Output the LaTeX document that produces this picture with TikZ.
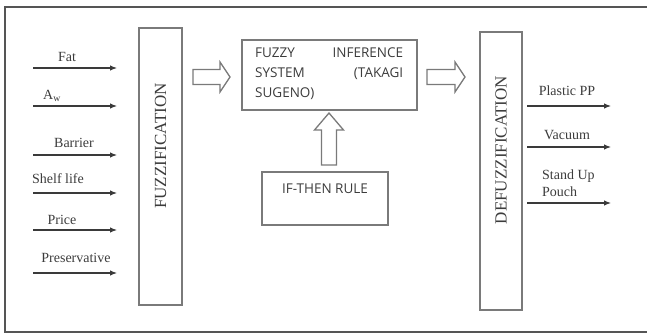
\documentclass[tikz,border=0pt]{standalone}
\usepackage{fontspec}
\setmainfont{Liberation Serif}
\newfontfamily\fisfont{Open Sans}
\usetikzlibrary{arrows.meta}
\definecolor{boxcol}{HTML}{7A7A7A}
\definecolor{arrcol}{HTML}{3A3A3A}
\definecolor{txtcol}{HTML}{3C3C3C}
\definecolor{framecol}{HTML}{555555}
\tikzset{
  panel/.style={draw=boxcol, line width=1.3pt, inner sep=0pt},
  inarrow/.style={draw=arrcol, line width=1.1pt, -{Latex[length=7pt,width=5.5pt]}},
  lab/.style={font=\fontsize{14}{15}\selectfont, text=txtcol, inner sep=0pt},
  sidelab/.style={font=\fontsize{17}{18}\selectfont, text=txtcol, inner sep=0pt, rotate=90},
  fistxt/.style={font=\fisfont\fontsize{13.5}{20}\selectfont, text=txtcol, inner sep=0pt},
  blockarrow/.style={draw=boxcol, line width=1.3pt, line join=miter, fill=white},
}
\begin{document}
\begin{tikzpicture}[x=1pt,y=-1pt]
\useasboundingbox (0,0) rectangle (647,336);
% frame (open on the right)
\draw[framecol, line width=1.3pt] (647,7) -- (5,7) -- (5,332) -- (647,332);

% boxes
\node[panel, minimum width=43pt, minimum height=277pt] (fuzz) at (160.5,166.5) {};
\node[sidelab] (fuzzt) at (160.5,146) {FUZZIFICATION};
\node[panel, minimum width=42pt, minimum height=278pt] (defuzz) at (501,171) {};
\node[sidelab] (defuzzt) at (501,150) {DEFUZZIFICATION};
\node[panel, minimum width=175pt, minimum height=70pt] (fis) at (329.5,75) {};
\node[fistxt, align=left, anchor=north west] (fist) at (255,48) {%
  \makebox[148pt][s]{FUZZY\hfill INFERENCE}\\
  \makebox[148pt][s]{SYSTEM\hfill (TAKAGI}\\
  SUGENO)};
\node[panel, minimum width=126pt, minimum height=53pt] (rule) at (325,198.5) {};
\node[fistxt] (rulet) at (325,189) {IF-THEN RULE};

% inputs
\foreach \n/\y/\lx/\ly/\t in {
  fat/68/67/57/Fat,
  aw/106/52/96/{A\textsubscript{w}},
  bar/155/74/143/Barrier,
  shelf/193/58/179/Shelf life,
  price/230/62/220/Price,
  pres/273/76/258/Preservative}{
  \coordinate (\n s) at (33,\y);
  \coordinate (\n e) at (117,\y);
  \draw[inarrow] (\n s) -- (\n e);
  \node[lab] (\n l) at (\lx,\ly) {\t};
}

% outputs
\foreach \n/\y in {pp/106, vac/147, sup/203}{
  \coordinate (\n s) at (527,\y);
  \coordinate (\n e) at (611,\y);
  \draw[inarrow] (\n s) -- (\n e);
}
\node[lab] (ppl) at (567,91) {Plastic PP};
\node[lab] (vacl) at (567,135) {Vacuum};
\node[lab, align=left, anchor=west, font=\fontsize{14}{17}\selectfont] (supl) at (542,183) {Stand Up\\Pouch};

% block arrows
\coordinate (b1) at (193,77);
\draw[blockarrow] (b1) ++(0,-7.5) -- ++(27,0) -- ++(0,-7.5) -- ++(10,15) -- ++(-10,15) -- ++(0,-7.5) -- ++(-27,0) -- cycle;
\coordinate (b2) at (427,77);
\draw[blockarrow] (b2) ++(0,-7.5) -- ++(28,0) -- ++(0,-7.5) -- ++(10,15) -- ++(-10,15) -- ++(0,-7.5) -- ++(-28,0) -- cycle;
\coordinate (b3) at (329,165);
\draw[blockarrow] (b3) ++(-7.5,0) -- ++(0,-35) -- ++(-7,0) -- ++(14.5,-17) -- ++(14.5,17) -- ++(-7,0) -- ++(0,35) -- cycle;
\end{tikzpicture}
\end{document}
